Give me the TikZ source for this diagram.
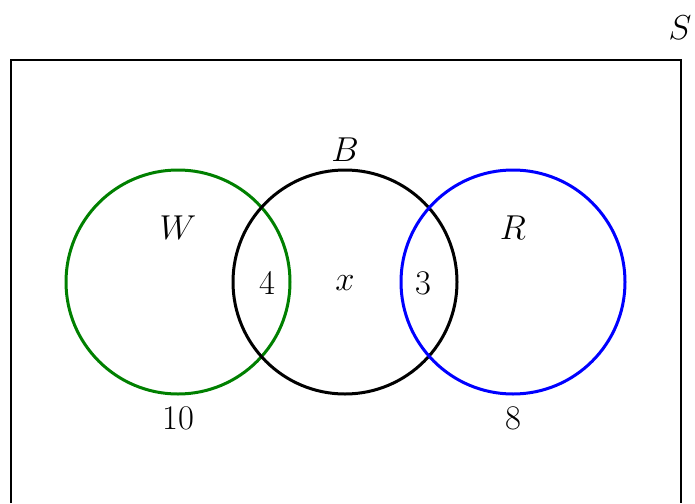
\documentclass[tikz,border=0pt]{standalone}
\usepackage{amsmath,amssymb}
\usepackage{xcolor}
\usepackage{tikz}
\usetikzlibrary{positioning}

\definecolor{wgreen}{RGB}{0,128,0}

\begin{document}
\begin{tikzpicture}[x=0.5pt, y=-0.5pt, font=\LARGE,
  set/.style={circle, draw, line width=1.5pt, minimum size=112pt, inner sep=0pt},
  lbl/.style={inner sep=1pt}]
  \useasboundingbox (0,0) rectangle (695,503);
  % universe
  \coordinate (UL) at (11,60);
  \coordinate (UR) at (681,60);
  \draw[line width=1pt] (11,503) -- (UL) -- (UR) -- (681,503);
  \node[lbl] (S) at (680,28) {$S$};

  \node[set, draw=wgreen] (W) at (178,282) {};
  \node[set, draw=black] (B) at (345,282) {};
  \node[set, draw=blue] (R) at (513,282) {};

  \node[lbl] (Wl) at (178,228) {$W$};
  \node[lbl] (Bl) at (345,150) {$B$};
  \node[lbl] (Rl) at (513,228) {$R$};

  \node[lbl] (nWB) at (267,283) {4};
  \node[lbl] (nB) at (345,283) {$x$};
  \node[lbl] (nBR) at (423,283) {3};
  \node[lbl] (nW) at (178,418) {10};
  \node[lbl] (nR) at (513,418) {8};
\end{tikzpicture}
\end{document}
